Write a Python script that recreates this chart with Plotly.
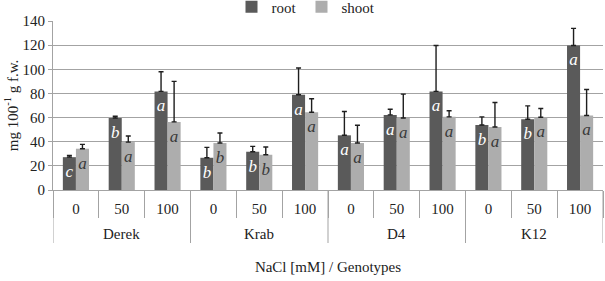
import plotly.graph_objects as go

genotypes = ["Derek", "Krab", "D4", "K12"]
nacl_levels = ["0", "50", "100"]
series_names = ["root", "shoot"]

root_values = [27.2, 59.7, 81.7, 26.7, 31.7, 78.9, 45.3, 62.2, 81.7, 53.9, 58.6, 119.7]
root_err = [1.4, 1.4, 16.3, 8.6, 4.4, 22.2, 19.7, 4.7, 38.0, 6.7, 11.1, 14.2]
root_letters = ["c", "b", "a", "b", "b", "a", "a", "a", "a", "b", "b", "a"]

shoot_values = [34.2, 39.7, 56.4, 38.9, 29.2, 64.4, 38.9, 59.7, 60.6, 52.2, 60.3, 61.7]
shoot_err = [3.6, 5.0, 33.6, 8.3, 6.4, 11.2, 14.7, 19.7, 5.0, 20.3, 7.2, 21.6]
shoot_letters = ["a", "a", "a", "b", "b", "a", "a", "a", "a", "a", "a", "a"]

y_ticks = [0, 20, 40, 60, 80, 100, 120, 140]

ROOT_COLOR = "#5a5a5a"
SHOOT_COLOR = "#adadad"
GRID = "#a3a3a3"
TXT = "#222222"
FONT = "Liberation Serif"
BARGAP = 0.43
LETTER_DROP = 13  # letters sit this many units below the bar top


def serif(s, italic=False):
    st = f"font-family:{FONT}"
    if italic:
        st += ";font-style:italic"
    return f"<span style='{st}'>{s}</span>"


n_lev = len(nacl_levels)
n = len(genotypes) * n_lev
pos = list(range(n))
inner_labels = [serif(lv) for _ in genotypes for lv in nacl_levels]
boundaries = [p - 0.5 for p in range(n + 1)]
group_centers = [g * n_lev + (n_lev - 1) / 2 for g in range(len(genotypes))]
group_bounds = [g * n_lev - 0.5 for g in range(len(genotypes) + 1)]

fig = go.Figure()
fig.add_trace(go.Bar(
    name=serif(series_names[0]), x=pos, y=root_values, marker_color=ROOT_COLOR,
    marker_line_width=0,
    error_y=dict(type="data", symmetric=False, array=root_err, arrayminus=[0] * n,
                 color="#1e1e1e", thickness=1.4, width=2.5),
))
fig.add_trace(go.Bar(
    name=serif(series_names[1]), x=pos, y=shoot_values, marker_color=SHOOT_COLOR,
    marker_line_width=0,
    error_y=dict(type="data", symmetric=False, array=shoot_err, arrayminus=[0] * n,
                 color="#1e1e1e", thickness=1.4, width=2.5),
))

half = (1 - BARGAP) / 4
fig.add_trace(go.Scatter(
    x=[p - half for p in pos], y=[v - LETTER_DROP for v in root_values],
    text=[serif(t, True) for t in root_letters], mode="text",
    textfont=dict(family=FONT, size=17, color="white", style="italic"),
    showlegend=False, hoverinfo="skip", cliponaxis=False,
))
fig.add_trace(go.Scatter(
    x=[p + half for p in pos], y=[v - LETTER_DROP for v in shoot_values],
    text=[serif(t, True) for t in shoot_letters], mode="text",
    textfont=dict(family=FONT, size=17, color="#3a3a3a", style="italic"),
    showlegend=False, hoverinfo="skip", cliponaxis=False,
))

# genotype (outer level) labels and dividers
for gname, gc in zip(genotypes, group_centers):
    fig.add_annotation(x=gc, xref="x", y=0, yref="paper", yanchor="middle",
                       yshift=-44, text=serif(gname), showarrow=False,
                       font=dict(family=FONT, size=15, color=TXT))
for gb in group_bounds:
    fig.add_shape(type="line", xref="x", yref="paper", x0=gb, x1=gb, y0=0,
                  y1=-53 / 169, line=dict(color=GRID, width=1))

fig.update_layout(
    width=605, height=281,
    margin=dict(l=53, r=2, t=21, b=91, autoexpand=False),
    paper_bgcolor="white", plot_bgcolor="white",
    barmode="group", bargap=BARGAP, bargroupgap=0,
    font=dict(family=FONT, size=15, color=TXT),
    showlegend=True,
    legend=dict(orientation="h", x=0.46, xanchor="center", y=1.083, yref="paper",
                yanchor="middle", font=dict(family=FONT, size=15, color=TXT),
                itemwidth=30, bgcolor="rgba(0,0,0,0)"),
    xaxis=dict(
        range=[-0.5, n - 0.5], tickvals=pos, ticktext=inner_labels,
        showline=True, linecolor=GRID, linewidth=1, ticks="",
        minor=dict(tickvals=boundaries, ticks="outside", ticklen=27, tickcolor=GRID,
                   showgrid=False),
        tickfont=dict(family=FONT, size=15, color=TXT),
        ticklabelstandoff=5, showgrid=False, zeroline=False, automargin=False,
        title=dict(text="NaCl [mM] / Genotypes", font=dict(family=FONT, size=15),
                   standoff=45),
    ),
    yaxis=dict(
        range=[0, 140], tickvals=y_ticks, ticktext=[serif(v) for v in y_ticks],
        showgrid=True, gridcolor=GRID, gridwidth=1,
        showline=True, linecolor=GRID, linewidth=1, ticks="outside", ticklen=4,
        tickcolor=GRID, zeroline=False, automargin=False,
        tickfont=dict(family=FONT, size=15, color=TXT),
        title=dict(text="mg 100<sup>-1</sup> g f.w.", font=dict(family=FONT, size=15),
                   standoff=0),
    ),
)

fig.write_html("out.html", config={"displayModeBar": False},
               post_script="document.body.style.margin='0';")
